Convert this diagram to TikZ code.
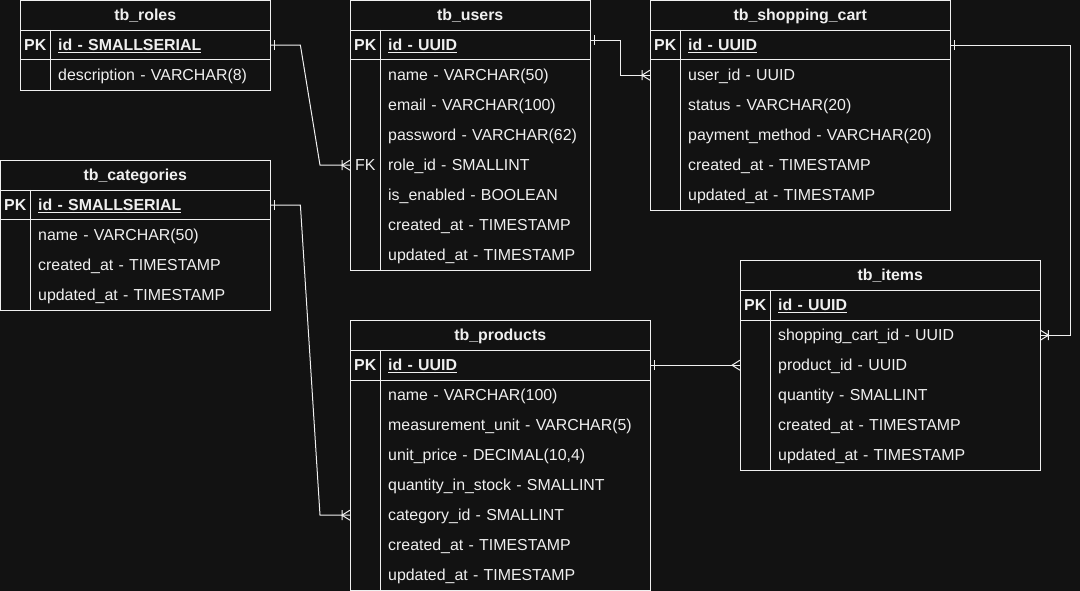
\documentclass[tikz,border=0pt]{standalone}
\usepackage{fontspec}
\setmainfont{Liberation Sans}
\usetikzlibrary{calc}
\definecolor{bg}{HTML}{121212}
\definecolor{fg}{HTML}{F0F0F0}
\newcommand{\pkfield}[1]{\textbf{\underline{#1}}}
% #1 name, #2 X, #3 Y, #4 W, #5 H, #6 title
\newcommand{\ertable}[6]{%
  \node[frame, minimum width=#4, minimum height=#5] (#1) at (#2,#3) {};
  \node[ttl, minimum width=#4] (#1-t) at (#2,#3) {#6};
  \draw[ln] (#1-t.south west) -- (#1-t.south east);
  \draw[ln] (#2,#3+60) -- (#2+#4,#3+60);
  \draw[ln] (#2+30,#3+30) -- (#2+30,#3+#5);
}
% #1 name, #2 X, #3 Y, #4 field width, #5 text width, #6 key, #7 text
\newcommand{\errow}[7]{%
  \node[keycell] (#1-k) at (#2,#3) {#6};
  \node[fieldcell, minimum width=#4, text width=#5] (#1) at (#2+30,#3) {#7};
}
\begin{document}
\begin{tikzpicture}[x=1pt,y=-1pt,
  font=\fontsize{15.9}{19}\selectfont, text=fg,
  ln/.style={draw=fg, line width=1pt},
  conn/.style={draw=fg, line width=1pt},
  frame/.style={draw=fg, line width=1pt, anchor=north west, inner sep=0pt},
  txt/.style={text height=13pt, text depth=3pt},
  ttl/.style={txt, anchor=north west, inner sep=0pt, minimum height=30pt, font=\fontsize{15.9}{19}\selectfont\bfseries},
  keycell/.style={txt, anchor=north west, inner sep=0pt, minimum width=30pt, minimum height=30pt, font=\fontsize{15.9}{19}\selectfont\bfseries},
  fieldcell/.style={txt, anchor=north west, inner ysep=0pt, inner xsep=8pt, minimum height=30pt, align=left},
  one/.pic={\draw[conn] (4,-5) -- (4,5);},
  many/.pic={\draw[conn] (0,-5) -- (8,0) -- (0,5);},
  onemany/.pic={\draw[conn] (0,-5) -- (8,0) -- (0,5) (8,-5) -- (8,5);}
]
\fill[bg] (0,0) rectangle (1080,591);
\useasboundingbox (0,0) rectangle (1080,591);

% tb_roles
\ertable{roles}{20}{0}{250}{90}{tb\_roles}
\errow{roles-id}{20}{30}{220}{204pt}{PK}{\pkfield{id - SMALLSERIAL}}
\errow{roles-desc}{20}{60}{220}{204pt}{}{description - VARCHAR(8)}

% tb_users
\ertable{users}{350}{0}{240}{270}{tb\_users}
\errow{users-id}{350}{30}{210}{194pt}{PK}{\pkfield{id - UUID}}
\errow{users-name}{350}{60}{210}{194pt}{}{name - VARCHAR(50)}
\errow{users-email}{350}{90}{210}{194pt}{}{email - VARCHAR(100)}
\errow{users-pass}{350}{120}{210}{194pt}{}{password - VARCHAR(62)}
\errow{users-roleid}{350}{150}{210}{194pt}{\mdseries FK}{role\_id - SMALLINT}
\errow{users-enabled}{350}{180}{210}{194pt}{}{is\_enabled - BOOLEAN}
\errow{users-created}{350}{210}{210}{194pt}{}{created\_at - TIMESTAMP}
\errow{users-updated}{350}{240}{210}{194pt}{}{updated\_at - TIMESTAMP}

% tb_shopping_cart
\ertable{cart}{650}{0}{300}{210}{tb\_shopping\_cart}
\errow{cart-id}{650}{30}{270}{254pt}{PK}{\pkfield{id - UUID}}
\errow{cart-userid}{650}{60}{270}{254pt}{}{user\_id - UUID}
\errow{cart-status}{650}{90}{270}{254pt}{}{status - VARCHAR(20)}
\errow{cart-pay}{650}{120}{270}{254pt}{}{payment\_method - VARCHAR(20)}
\errow{cart-created}{650}{150}{270}{254pt}{}{created\_at - TIMESTAMP}
\errow{cart-updated}{650}{180}{270}{254pt}{}{updated\_at - TIMESTAMP}

% tb_categories
\ertable{cat}{0}{160}{270}{150}{tb\_categories}
\errow{cat-id}{0}{190}{240}{224pt}{PK}{\pkfield{id - SMALLSERIAL}}
\errow{cat-name}{0}{220}{240}{224pt}{}{name - VARCHAR(50)}
\errow{cat-created}{0}{250}{240}{224pt}{}{created\_at - TIMESTAMP}
\errow{cat-updated}{0}{280}{240}{224pt}{}{updated\_at - TIMESTAMP}

% tb_products
\ertable{prod}{350}{320}{300}{270}{tb\_products}
\errow{prod-id}{350}{350}{270}{254pt}{PK}{\pkfield{id - UUID}}
\errow{prod-name}{350}{380}{270}{254pt}{}{name - VARCHAR(100)}
\errow{prod-unit}{350}{410}{270}{254pt}{}{measurement\_unit - VARCHAR(5)}
\errow{prod-price}{350}{440}{270}{254pt}{}{unit\_price - DECIMAL(10,4)}
\errow{prod-qty}{350}{470}{270}{254pt}{}{quantity\_in\_stock - SMALLINT}
\errow{prod-catid}{350}{500}{270}{254pt}{}{category\_id - SMALLINT}
\errow{prod-created}{350}{530}{270}{254pt}{}{created\_at - TIMESTAMP}
\errow{prod-updated}{350}{560}{270}{254pt}{}{updated\_at - TIMESTAMP}

% tb_items
\ertable{items}{740}{260}{300}{210}{tb\_items}
\errow{items-id}{740}{290}{270}{254pt}{PK}{\pkfield{id - UUID}}
\errow{items-cartid}{740}{320}{270}{254pt}{}{shopping\_cart\_id - UUID}
\errow{items-prodid}{740}{350}{270}{254pt}{}{product\_id - UUID}
\errow{items-qty}{740}{380}{270}{254pt}{}{quantity - SMALLINT}
\errow{items-created}{740}{410}{270}{254pt}{}{created\_at - TIMESTAMP}
\errow{items-updated}{740}{440}{270}{254pt}{}{updated\_at - TIMESTAMP}

% connectors
\draw[conn] (roles-id.east) -- ++(30,0) -- ($(users-roleid-k.west)+(-30,0)$) -- (users-roleid-k.west);
\path (roles-id.east) pic{one};
\path (users-roleid-k.west) pic[rotate=180]{onemany};

\coordinate (uid) at ([yshift=5pt]users-id.east);
\draw[conn] (uid) -- ++(30,0) |- (cart-userid-k.west);
\path (uid) pic{one};
\path (cart-userid-k.west) pic[rotate=180]{onemany};

\draw[conn] (cart-id.east) -- ++(120,0) |- (items-cartid.east);
\path (cart-id.east) pic{one};
\path (items-cartid.east) pic{onemany};

\draw[conn] (cat-id.east) -- ++(30,0) -- ($(prod-catid-k.west)+(-30,0)$) -- (prod-catid-k.west);
\path (cat-id.east) pic{one};
\path (prod-catid-k.west) pic[rotate=180]{onemany};

\draw[conn] (prod-id.east) -- (items-prodid-k.west);
\path (prod-id.east) pic{one};
\path (items-prodid-k.west) pic[rotate=180]{many};
\end{tikzpicture}
\end{document}
